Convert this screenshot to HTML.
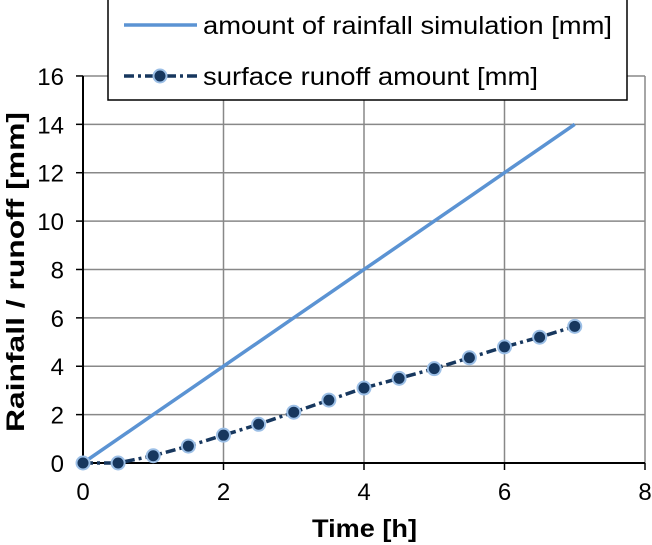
<!DOCTYPE html>
<html><head><meta charset="utf-8"><style>
body{margin:0;background:#fff}
svg{display:block;font-family:"Liberation Sans",Arial,sans-serif}
</style></head><body>
<svg id="chart" width="652" height="545">
<g id="grid"></g><g id="axes"></g><g id="series"></g>
<text x="312" y="537" font-size="25" font-weight="bold" textLength="105" lengthAdjust="spacingAndGlyphs">Time [h]</text>
<text transform="translate(24,272) rotate(-90)" x="-160" y="0" font-size="25" font-weight="bold" textLength="320" lengthAdjust="spacingAndGlyphs">Rainfall / runoff [mm]</text>
<g>
<rect x="108" y="-1" width="519" height="101" fill="#fff" stroke="#000" stroke-width="1.5"/>
<g>
<line x1="124" y1="25" x2="197" y2="25" stroke="#5b93d3" stroke-width="3.5"/>
<text x="203" y="34" font-size="25" textLength="409" lengthAdjust="spacingAndGlyphs">amount of rainfall simulation [mm]</text></g>
<g>
<line x1="124" y1="76" x2="197" y2="76" stroke="#17375e" stroke-width="3.5" stroke-dasharray="10,4,3,4"/>
<circle cx="160" cy="76" r="6.5" fill="#17375e" stroke="#9cbfe6" stroke-width="2"/>
<text x="203" y="85" font-size="25" textLength="335" lengthAdjust="spacingAndGlyphs">surface runoff amount [mm]</text></g>
</g>
</svg>
<script>
const xTicks=[0,2,4,6,8];
const yTicks=[0,2,4,6,8,10,12,14,16];
const times=[0,0.5,1,1.5,2,2.5,3,3.5,4,4.5,5,5.5,6,6.5,7];
const rainfall=[0,1,2,3,4,5,6,7,8,9,10,11,12,13,14];
const runoff=[0,0,0.3,0.7,1.15,1.6,2.1,2.6,3.1,3.5,3.9,4.35,4.8,5.2,5.65];
const NS='http://www.w3.org/2000/svg';
const X=v=>83+v*70.25, Y=v=>463-v*24.19;
function mk(t,a,p){const e=document.createElementNS(NS,t);for(const k in a)e.setAttribute(k,a[k]);p.appendChild(e);return e;}
const g=document.getElementById('grid'),ax=document.getElementById('axes'),s=document.getElementById('series');
xTicks.forEach(t=>{
 if(t>0){const l=mk('line',{x1:X(t),x2:X(t),y1:Y(16),y2:Y(0),stroke:'#888','stroke-width':1.5},g);
 
 }
 mk('line',{x1:X(t),x2:X(t),y1:Y(0),y2:Y(0)+7,stroke:'#000','stroke-width':1.5},ax);
 const tx=mk('text',{x:X(t),y:500,'font-size':24,'text-anchor':'middle'},ax);tx.textContent=t;
 
 
});
yTicks.forEach(t=>{
 if(t>0){const l=mk('line',{x1:X(0),x2:X(8),y1:Y(t),y2:Y(t),stroke:'#888','stroke-width':1.5},g);
 
 }
 mk('line',{x1:X(0)-7,x2:X(0),y1:Y(t),y2:Y(t),stroke:'#000','stroke-width':1.5},ax);
 const tx=mk('text',{x:64,y:Y(t)+9,'font-size':24,'text-anchor':'end'},ax);tx.textContent=t;
 
 
});
const xa=mk('line',{x1:X(0),x2:X(8),y1:Y(0),y2:Y(0),stroke:'#000','stroke-width':2},ax);


const ya=mk('line',{x1:X(0),x2:X(0),y1:Y(0),y2:Y(16),stroke:'#000','stroke-width':2},ax);


const l1=mk('polyline',{points:times.map((t,i)=>X(t)+','+Y(rainfall[i])).join(' '),fill:'none',stroke:'#5b93d3','stroke-width':3.5},s);


const l2=mk('polyline',{points:times.map((t,i)=>X(t)+','+Y(runoff[i])).join(' '),fill:'none',stroke:'#17375e','stroke-width':3.5,'stroke-dasharray':'10,4,3,4'},s);


times.forEach((t,i)=>{
 const c=mk('circle',{cx:X(t),cy:Y(runoff[i]),r:6.5,fill:'#17375e',stroke:'#9cbfe6','stroke-width':2},s);
 
 
});
</script>
</body></html>
